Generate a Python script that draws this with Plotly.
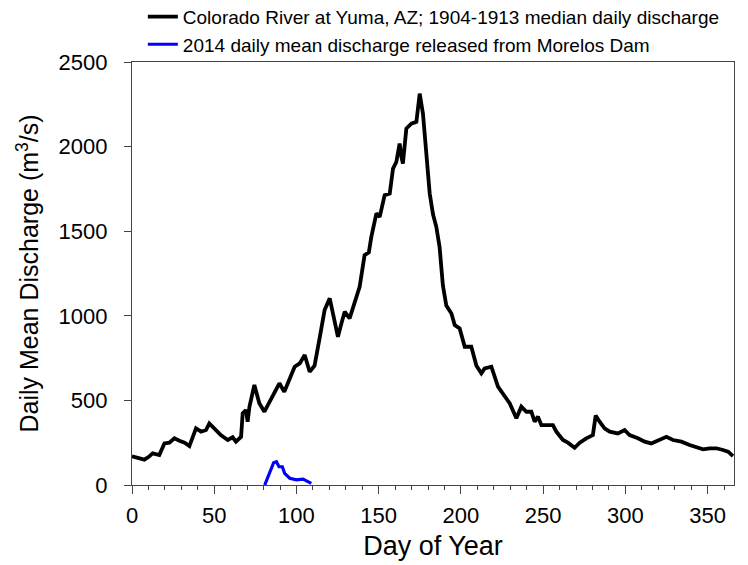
import plotly.graph_objects as go

# Colorado River at Yuma, 1904-1913 median daily discharge
yuma_day = [0, 3, 7.5, 10, 12.6, 16.6, 19.7, 22.7, 25.8, 28.8, 32, 34.9, 38.9, 42, 45, 47, 50, 54,
            58.2, 61.2, 63.2, 66.3, 67.3, 69.3, 70.3, 71.4, 74.4, 77.4, 80.5, 84.5, 89.6, 92.6,
            96.9, 98.9, 102, 105, 108, 111, 114.1, 117.1, 120.2, 122.2, 125.2, 127.3, 129.3,
            132.3, 135.4, 138.4, 141.4, 144, 145.5, 148.6, 150.6, 153.6, 156.7, 158.7, 160.7,
            162.7, 163.8, 164.7, 166.8, 169.8, 172.9, 174.9, 176.9, 179, 181, 183, 185, 187,
            189, 191.1, 194.2, 196.2, 199.2, 202.3, 206.3, 209.4, 212.4, 214.4, 218.5, 222.5,
            226.6, 229.6, 233.7, 236.7, 239.8, 242.8, 244.8, 246.8, 248.9, 255.9, 258, 262,
            265, 269.1, 272.2, 276.2, 280.2, 281.9, 284.3, 287.3, 290.4, 295.4, 299.5, 302.5,
            307.6, 311.7, 315.7, 319.8, 324.9, 328.9, 334, 339, 343.1, 347.2, 351.2, 355.3,
            359.3, 362.4, 365.4]
yuma_q = [170, 160, 150, 165, 187, 177, 246, 250, 276, 262, 250, 230, 335, 315, 325, 364, 335, 295,
          266, 282, 256, 285, 423, 443, 374, 462, 591, 483, 433, 502, 601, 551,
          660, 699, 719, 768, 669, 705, 870, 1034, 1103, 1014, 876, 955, 1024,
          985, 1073, 1171, 1358, 1375, 1466, 1605, 1585, 1713, 1723, 1870, 1909,
          2018, 1939, 1900, 2107, 2136, 2146, 2313, 2195, 1939, 1723, 1600, 1526, 1407,
          1180, 1060, 1014, 945, 925, 817, 817, 705, 660, 689, 699, 581,
          522, 483, 394, 463, 433, 433, 374, 404, 354, 354, 315, 266,
          250, 220, 250, 276, 295, 410, 374, 335, 315, 305, 325, 295,
          276, 256, 246, 266, 285, 266, 256, 236, 226, 211, 217, 217,
          207, 197, 171]

# 2014 daily mean discharge released from Morelos Dam
morelos_day = [80.7, 83, 86.1, 87.8, 89.4, 91.4, 92.8, 95.9, 99.9, 104, 106, 109]
morelos_q = [0, 60, 132, 138, 108, 108, 69, 40, 30, 35, 25, 10]

legend_names = ["Colorado River at Yuma, AZ; 1904-1913 median daily discharge",
                "2014 daily mean discharge released from Morelos Dam"]

x_ticks = [0, 50, 100, 150, 200, 250, 300, 350]
y_ticks = [0, 500, 1000, 1500, 2000, 2500]

fig = go.Figure()
fig.add_trace(go.Scatter(x=yuma_day, y=yuma_q, mode="lines", name=legend_names[0],
                         line=dict(color="black", width=3.8)))
fig.add_trace(go.Scatter(x=morelos_day, y=morelos_q, mode="lines", name=legend_names[1],
                         line=dict(color="#0000ff", width=3.2)))

axis_common = dict(showline=True, linecolor="#444", linewidth=1.3, mirror=True,
                   showgrid=False, zeroline=False, ticks="outside", tickcolor="#444",
                   tickfont=dict(size=22, color="black"))

# page body adds an 8px offset, so the figure is 740x557 and margins compensate
fig.update_layout(
    width=740, height=557,
    margin=dict(l=124, r=14, t=54, b=80, autoexpand=False),
    paper_bgcolor="white", plot_bgcolor="white",
    font=dict(family="Liberation Sans, Arial, sans-serif", color="black"),
    showlegend=True,
    legend=dict(x=0.018, y=1.152, xanchor="left", yanchor="top",
                font=dict(size=19, color="black"), bgcolor="rgba(0,0,0,0)",
                tracegroupgap=0, itemwidth=30),
    xaxis=dict(range=[0, 366], tickvals=x_ticks, ticklen=8, ticklabelstandoff=2,
               minor=dict(dtick=10, tick0=0, ticks="outside", ticklen=4, tickcolor="#444"),
               title=dict(text="Day of Year", font=dict(size=27), standoff=9),
               **axis_common),
    yaxis=dict(range=[0, 2500], tickvals=y_ticks, ticklen=7, ticklabelstandoff=12,
               title=dict(text="Daily Mean Discharge (m<sup>3</sup>/s)", font=dict(size=25),
                          standoff=12),
               **axis_common),
)

fig.write_html("out.html")
